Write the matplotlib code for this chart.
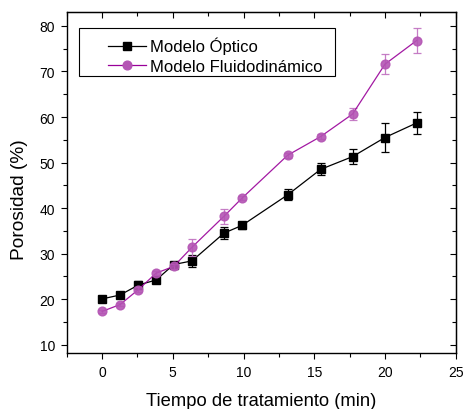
import numpy as np
import matplotlib
matplotlib.use('Agg')
import matplotlib.pyplot as plt
from matplotlib.ticker import MultipleLocator
from matplotlib.lines import Line2D
from matplotlib.patches import Rectangle

plt.rcParams.update({
    'font.family': ['Liberation Sans', 'DejaVu Sans'],
    'font.size': 10,
})

# datos
tiempo = [0.0, 1.27, 2.57, 3.82, 5.07, 6.36, 8.62, 9.9, 13.12, 15.45, 17.71, 20.0, 22.24]
optico = [20.05, 20.9, 23.1, 24.2, 27.6, 28.4, 34.5, 36.2, 42.9, 48.5, 51.3, 55.5, 58.7]
optico_err = [0.4, 0.4, 0.8, 0.4, 0.5, 1.3, 1.3, 0.8, 1.2, 1.3, 1.6, 3.2, 2.4]
fluido = [17.3, 18.8, 22.1, 25.7, 27.2, 31.4, 38.2, 42.2, 51.6, 55.7, 60.65, 71.6, 76.8]
fluido_err = [0.4, 0.4, 0.6, 0.5, 0.5, 1.9, 1.6, 0.5, 0.5, 0.6, 1.3, 2.2, 2.7]

C_LINEA = '#990099'
C_MARCA = '#b455b4'
C_ERR = '#c070c0'

fig = plt.figure(figsize=(4.64, 4.10), dpi=100)
ax = fig.add_axes([66.7 / 464, 1 - 354.3 / 410, (455.7 - 66.7) / 464, (354.3 - 13.3) / 410])

ax.errorbar(tiempo, optico, yerr=optico_err, color='black', lw=0.9,
            marker='s', ms=6, capsize=2.7, elinewidth=0.9, capthick=0.9, zorder=3)
ax.errorbar(tiempo, fluido, yerr=fluido_err, color=C_LINEA, lw=0.9,
            marker='o', ms=6.3, mfc=C_MARCA, mec=C_MARCA, alpha=0.9,
            ecolor=C_ERR, capsize=2.7, elinewidth=0.9, capthick=0.9, zorder=4)

ax.set_xlim(-2.5, 25)
ax.set_ylim(8.1, 83.0)
ax.xaxis.set_major_locator(MultipleLocator(5))
ax.xaxis.set_minor_locator(MultipleLocator(2.5))
ax.yaxis.set_major_locator(MultipleLocator(10))
ax.yaxis.set_minor_locator(MultipleLocator(5))
ax.tick_params(which='both', direction='out', labelsize=10, width=0.8, pad=4)
ax.tick_params(which='major', length=4.5)
ax.tick_params(which='minor', length=3)
for s in ax.spines.values():
    s.set_linewidth(1.0)

# ticks hacia dentro arriba y a la derecha
top = ax.secondary_xaxis('top')
top.xaxis.set_major_locator(MultipleLocator(5))
top.xaxis.set_minor_locator(MultipleLocator(2.5))
top.tick_params(which='both', direction='in', labeltop=False, width=0.8)
top.tick_params(which='major', length=4.5)
top.tick_params(which='minor', length=3)
der = ax.secondary_yaxis('right')
der.yaxis.set_major_locator(MultipleLocator(10))
der.yaxis.set_minor_locator(MultipleLocator(5))
der.tick_params(which='both', direction='in', labelright=False, width=0.8)
der.tick_params(which='major', length=4.5)
der.tick_params(which='minor', length=3)

ax.set_xlabel('Tiempo de tratamiento (min)', fontsize=13.2, labelpad=9)
ax.set_ylabel('Porosidad (%)', fontsize=13.8)
ax.yaxis.set_label_coords(-0.0995, 0.455)

# leyenda
handles = [
    Line2D([], [], color='black', lw=0.9, marker='s', ms=6),
    Line2D([], [], color=C_LINEA, lw=0.9, marker='o', ms=6.3, mfc=C_MARCA, mec=C_MARCA),
]
ax.legend(handles, ['Modelo Óptico', 'Modelo Fluidodinámico'],
          loc='upper left', bbox_to_anchor=(0.106, 0.928), fontsize=12,
          frameon=False, handlelength=2.3, handletextpad=0.25,
          borderpad=0, labelspacing=0.28, borderaxespad=0)
ax.add_patch(Rectangle((0.031, 0.814), 0.66, 0.139, transform=ax.transAxes,
                       fill=False, edgecolor='black', lw=0.8, zorder=5))

fig.savefig('out.png', dpi=100, facecolor='white')
